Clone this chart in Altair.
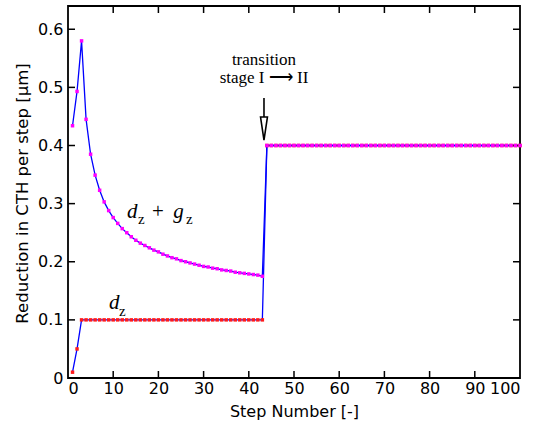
import altair as alt
import pandas as pd

# ---------------- data ----------------
steps = list(range(1, 101))

dz = [0.01, 0.05, 0.1, 0.1, 0.1, 0.1, 0.1, 0.1, 0.1, 0.1,
      0.1, 0.1, 0.1, 0.1, 0.1, 0.1, 0.1, 0.1, 0.1, 0.1,
      0.1, 0.1, 0.1, 0.1, 0.1, 0.1, 0.1, 0.1, 0.1, 0.1,
      0.1, 0.1, 0.1, 0.1, 0.1, 0.1, 0.1, 0.1, 0.1, 0.1,
      0.1, 0.1, 0.1, 0.4, 0.4, 0.4, 0.4, 0.4, 0.4, 0.4,
      0.4, 0.4, 0.4, 0.4, 0.4, 0.4, 0.4, 0.4, 0.4, 0.4,
      0.4, 0.4, 0.4, 0.4, 0.4, 0.4, 0.4, 0.4, 0.4, 0.4,
      0.4, 0.4, 0.4, 0.4, 0.4, 0.4, 0.4, 0.4, 0.4, 0.4,
      0.4, 0.4, 0.4, 0.4, 0.4, 0.4, 0.4, 0.4, 0.4, 0.4,
      0.4, 0.4, 0.4, 0.4, 0.4, 0.4, 0.4, 0.4, 0.4, 0.4]

dz_gz = [0.434, 0.493, 0.580, 0.445, 0.385, 0.349, 0.323, 0.303, 0.288, 0.276,
         0.266, 0.257, 0.250, 0.243, 0.237, 0.232, 0.228, 0.224, 0.220, 0.217,
         0.213, 0.210, 0.207, 0.205, 0.202, 0.200, 0.198, 0.196, 0.194, 0.192,
         0.191, 0.189, 0.188, 0.186, 0.185, 0.184, 0.182, 0.181, 0.180, 0.179,
         0.178, 0.177, 0.175, 0.4, 0.4, 0.4, 0.4, 0.4, 0.4, 0.4,
         0.4, 0.4, 0.4, 0.4, 0.4, 0.4, 0.4, 0.4, 0.4, 0.4,
         0.4, 0.4, 0.4, 0.4, 0.4, 0.4, 0.4, 0.4, 0.4, 0.4,
         0.4, 0.4, 0.4, 0.4, 0.4, 0.4, 0.4, 0.4, 0.4, 0.4,
         0.4, 0.4, 0.4, 0.4, 0.4, 0.4, 0.4, 0.4, 0.4, 0.4,
         0.4, 0.4, 0.4, 0.4, 0.4, 0.4, 0.4, 0.4, 0.4, 0.4]

x_ticks = [0, 10, 20, 30, 40, 50, 60, 70, 80, 90, 100]
y_ticks = [0, 0.1, 0.2, 0.3, 0.4, 0.5, 0.6]
x_inner_ticks = [10, 20, 30, 40, 50, 60, 70, 80, 90]
y_inner_ticks = [0.1, 0.2, 0.3, 0.4, 0.5, 0.6]

# annotation anchors (data coordinates)
italic_text = ["d", "g", "d"]
italic_x = [13.05, 23.3, 9.07]
italic_y = [0.2753, 0.2753, 0.1187]

sub_text = ["z", "z", "z"]
sub_x = [15.5, 26.1, 11.3]
sub_y = [0.265, 0.265, 0.1067]

plus_x = [19.9]
plus_y = [0.2753]

trans_text = ["transition", "stage I \u27f6 II"]
trans_x = [43.36, 43.36]
trans_y = [0.539, 0.5075]

arrow_x = 43.36
arrow_top = 0.4817
arrow_bottom = 0.449
head_y = 0.4292

# ---------------- chart ----------------
W, H = 452, 372
AX_FONT = "DejaVu Sans"
SERIF = "Liberation Serif"

df = pd.DataFrame({
    "step": steps * 2,
    "value": dz + dz_gz,
    "series": ["dz"] * len(steps) + ["dzgz"] * len(steps),
})

xs = alt.Scale(domain=[0, 100], nice=False, zero=False)
ys = alt.Scale(domain=[0, 0.64], nice=False, zero=False)

x_axis = alt.Axis(
    values=x_ticks, format="d", title="Step Number [-]",
    domain=False, ticks=False, grid=False,
    labelFont=AX_FONT, labelFontSize=16, labelColor="black", labelPadding=2,
    titleFont=AX_FONT, titleFontSize=16, titleFontWeight="normal", titleColor="black",
    titleX=W / 2, titleY=38, titleBaseline="alphabetic", titleAlign="center",
)
y_axis = alt.Axis(
    values=y_ticks, format=".1~f", title="Reduction in CTH per step [\u00b5m]",
    domain=False, ticks=False, grid=False,
    labelFont=AX_FONT, labelFontSize=16, labelColor="black", labelPadding=5,
    titleFont=AX_FONT, titleFontSize=16.5, titleFontWeight="normal", titleColor="black",
    titleX=-41, titleY=187, titleAngle=270, titleBaseline="alphabetic", titleAlign="center",
)

def xq(): return alt.X("step:Q", scale=xs, axis=x_axis)
def yq(): return alt.Y("value:Q", scale=ys, axis=y_axis)

lines = alt.Chart(df).mark_line(color="#0000ff", strokeWidth=1.3).encode(
    x=xq(), y=yq(), detail="series:N"
)

points = alt.Chart(df).mark_square(size=12, opacity=1).encode(
    x=xq(), y=yq(),
    color=alt.Color("series:N", scale=alt.Scale(domain=["dz", "dzgz"], range=["#ff1a1a", "#ff00ff"]), legend=None),
)

xt = pd.DataFrame({"step": x_inner_ticks})
yt = pd.DataFrame({"value": y_inner_ticks})
tick_bottom = alt.Chart(xt).mark_rule(color="black", strokeWidth=1.5).encode(
    x=xq(), y=alt.value(H), y2=alt.value(H - 7))
tick_top = alt.Chart(xt).mark_rule(color="black", strokeWidth=1.5).encode(
    x=xq(), y=alt.value(0), y2=alt.value(7))
tick_left = alt.Chart(yt).mark_rule(color="black", strokeWidth=1.5).encode(
    y=yq(), x=alt.value(0), x2=alt.value(7))
tick_right = alt.Chart(yt).mark_rule(color="black", strokeWidth=1.5).encode(
    y=yq(), x=alt.value(W), x2=alt.value(W - 7))

it = pd.DataFrame({"step": italic_x, "value": italic_y, "t": italic_text})
italic = alt.Chart(it).mark_text(font=SERIF, fontStyle="italic", fontSize=21, align="left",
                                 baseline="alphabetic", color="black").encode(x=xq(), y=yq(), text="t:N")
st = pd.DataFrame({"step": sub_x, "value": sub_y, "t": sub_text})
subs = alt.Chart(st).mark_text(font=SERIF, fontSize=15, align="left",
                               baseline="alphabetic", color="black").encode(x=xq(), y=yq(), text="t:N")
pt = pd.DataFrame({"step": plus_x, "value": plus_y, "t": ["+"]})
plus = alt.Chart(pt).mark_text(font=SERIF, fontSize=21, align="center",
                               baseline="alphabetic", color="black").encode(x=xq(), y=yq(), text="t:N")
tt = pd.DataFrame({"step": trans_x, "value": trans_y, "t": trans_text})
trans = alt.Chart(tt).mark_text(font=SERIF, fontSize=17, align="center",
                                baseline="alphabetic", color="black").encode(x=xq(), y=yq(), text="t:N")

shaft = alt.Chart(pd.DataFrame({"step": [arrow_x], "value": [arrow_top], "value2": [arrow_bottom]})).mark_rule(
    color="black", strokeWidth=1.6).encode(x=xq(), y=yq(), y2="value2:Q")
head = alt.Chart(pd.DataFrame({"step": [arrow_x], "value": [head_y]})).mark_point(
    shape="M-0.3,-1L0.3,-1L0,1Z", size=529, filled=True, fill="white", stroke="black",
    strokeWidth=1.6, opacity=1).encode(x=xq(), y=yq())

chart = alt.layer(
    lines, tick_bottom, tick_top, tick_left, tick_right, points,
    italic, subs, plus, trans, shaft, head
).properties(
    width=W, height=H,
    autosize=alt.AutoSizeParams(type="none"),
    padding={"left": 68, "top": 6, "right": 22, "bottom": 45},
    background="white",
).configure_view(stroke="black", strokeWidth=1.8)

chart.save("out.html", embed_options={"renderer": "svg", "actions": False})
